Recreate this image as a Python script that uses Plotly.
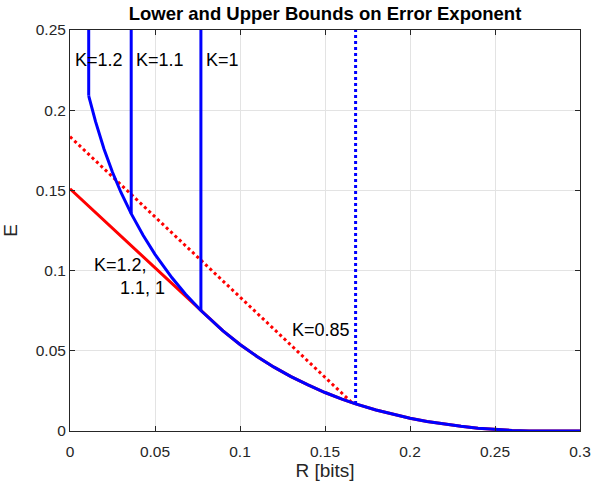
import plotly.graph_objects as go

# ---- data ----
R_curve = [0.011, 0.015, 0.02, 0.025, 0.03, 0.036, 0.043, 0.05, 0.06, 0.068, 0.077,
           0.09, 0.1, 0.11, 0.12, 0.13, 0.14, 0.15, 0.16, 0.168, 0.18, 0.19, 0.2,
           0.21, 0.22, 0.23, 0.24, 0.25, 0.26, 0.27, 0.278, 0.3]
E_curve = [0.209, 0.193, 0.1758, 0.1613, 0.1487, 0.1355, 0.122, 0.1101, 0.0955, 0.0853, 0.0751,
           0.0624, 0.0539, 0.0465, 0.0398, 0.0339, 0.0287, 0.024, 0.0199, 0.0169, 0.0131, 0.0103, 0.0079,
           0.0059, 0.0042, 0.0029, 0.0017, 0.00095, 0.00038, 0.00007, 0.0, 0.0]

# lower bound (random coding), straight part below the critical rate
R_lower_start = [0.0]
E_lower_start = [0.151]
R_crit = 0.077

# K = 0.85 lower-bound straight line (dotted)
R_dot_red = [0.0, 0.166]
E_dot_red = [0.1835, 0.0175]

# vertical cut-offs of the upper bound for each K
K_labels = ["K=1.2", "K=1.1", "K=1"]
K_rates = [0.011, 0.036, 0.077]
K_bottoms = [0.209, 0.1355, 0.0751]
K085_rate = 0.168
K085_bottom = 0.0169
E_top = 0.25

x_ticks = [0, 0.05, 0.1, 0.15, 0.2, 0.25, 0.3]
x_ticktext = ["0", "0.05", "0.1", "0.15", "0.2", "0.25", "0.3"]
y_ticks = [0, 0.05, 0.1, 0.15, 0.2, 0.25]
y_ticktext = ["0", "0.05", "0.1", "0.15", "0.2", "0.25"]

BLUE = "#0000ff"
RED = "#ff0000"
AX = "#262626"
FONT = "Liberation Sans, Arial, sans-serif"

fig = go.Figure()

# red solid lower bound
i0 = R_curve.index(R_crit)
fig.add_trace(go.Scatter(x=R_lower_start + R_curve[i0:], y=E_lower_start + E_curve[i0:],
                         mode="lines", line=dict(color=RED, width=3), showlegend=False))
# red dotted K=0.85
fig.add_trace(go.Scatter(x=R_dot_red, y=E_dot_red, mode="lines",
                         line=dict(color=RED, width=3, dash="dot"), showlegend=False))
# blue upper bound curve
fig.add_trace(go.Scatter(x=R_curve, y=E_curve, mode="lines",
                         line=dict(color=BLUE, width=3), showlegend=False))
# blue vertical cut-offs
for r, b in zip(K_rates, K_bottoms):
    fig.add_trace(go.Scatter(x=[r, r], y=[b, E_top], mode="lines",
                             line=dict(color=BLUE, width=3), showlegend=False))
fig.add_trace(go.Scatter(x=[K085_rate, K085_rate], y=[K085_bottom, E_top], mode="lines",
                         line=dict(color=BLUE, width=3, dash="dot"), showlegend=False))

ann_font = dict(family=FONT, size=18, color="black")
annotations = [
    dict(x=0.0018, y=0.231, text="K=1.2"),
    dict(x=0.0376, y=0.231, text="K=1.1"),
    dict(x=0.0788, y=0.231, text="K=1"),
    dict(x=0.0127, y=0.1034, text="K=1.2,"),
    dict(x=0.0284, y=0.089, text="1.1, 1"),
    dict(x=0.1294, y=0.0629, text="K=0.85"),
]
for a in annotations:
    fig.add_annotation(x=a["x"], y=a["y"], text=a["text"], xref="x", yref="y",
                       xanchor="left", yanchor="middle", showarrow=False, font=ann_font)

axis_common = dict(
    showline=True, linecolor=AX, linewidth=1, mirror="allticks",
    ticks="inside", ticklen=5, tickcolor=AX, tickwidth=1,
    showgrid=True, gridcolor="#e3e3e3", gridwidth=1, zeroline=False,
    tickfont=dict(family=FONT, size=15.5, color=AX), automargin=False,
)

fig.update_layout(
    width=592, height=481,
    margin=dict(l=70, r=12, t=30, b=50),
    paper_bgcolor="white", plot_bgcolor="white",
    title=dict(text="<b>Lower and Upper Bounds on Error Exponent</b>",
               x=0.5, xref="paper", xanchor="center",
               y=1 - 14 / 481, yref="container", yanchor="middle",
               font=dict(family=FONT, size=18.5, color="black"), automargin=False),
    xaxis=dict(range=[0, 0.3], tickvals=x_ticks, ticktext=x_ticktext,
               ticklabelstandoff=6,
               title=dict(text="R [bits]", standoff=9,
                          font=dict(family=FONT, size=19, color=AX)),
               **axis_common),
    yaxis=dict(range=[0, 0.25], tickvals=y_ticks, ticktext=y_ticktext,
               title=dict(text="E", standoff=14,
                          font=dict(family=FONT, size=19, color=AX)),
               **axis_common),
)

# remove the default 8px body margin so the 592x481 figure fills the window exactly
fig.write_html("out.html",
               config={"displayModeBar": False},
               post_script="document.body.style.margin='0px';document.body.style.overflow='hidden';")
